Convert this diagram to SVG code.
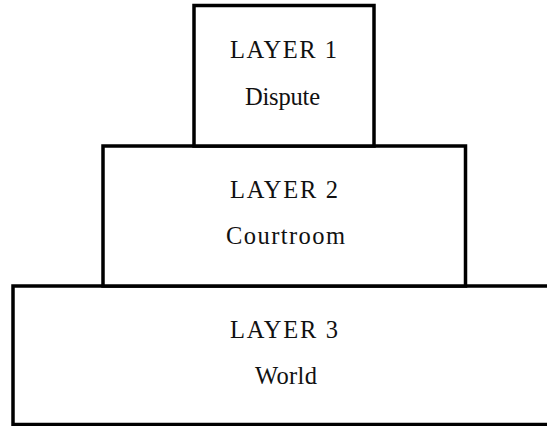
<svg xmlns="http://www.w3.org/2000/svg" width="547" height="426" viewBox="0 0 547 426">
<style>
.box{fill:#fff;stroke:#000;stroke-width:3.5}
.t{font-family:"Liberation Serif","Times New Roman",serif;font-size:24.5px;fill:#111;text-anchor:middle}
</style>
<rect width="547" height="426" fill="#fff"/>
<g id="layer3">
<rect class="box" x="13" y="286" width="542" height="138.5"/>
<text class="t" x="284" y="338" textLength="108" lengthAdjust="spacing">LAYER 3</text>
<text class="t" x="286" y="384" textLength="62" lengthAdjust="spacing">World</text>
</g>
<g id="layer2">
<rect class="box" x="103" y="146" width="362.5" height="140"/>
<text class="t" x="284" y="198" textLength="108" lengthAdjust="spacing">LAYER 2</text>
<text class="t" x="285.5" y="244" textLength="119" lengthAdjust="spacing">Courtroom</text>
</g>
<g id="layer1">
<rect class="box" x="194" y="5.5" width="180" height="140.5"/>
<text class="t" x="283.5" y="58" textLength="107" lengthAdjust="spacing">LAYER 1</text>
<text class="t" x="282.5" y="105" textLength="75" lengthAdjust="spacing">Dispute</text>
</g>
<g id="connectors"></g>
</svg>
